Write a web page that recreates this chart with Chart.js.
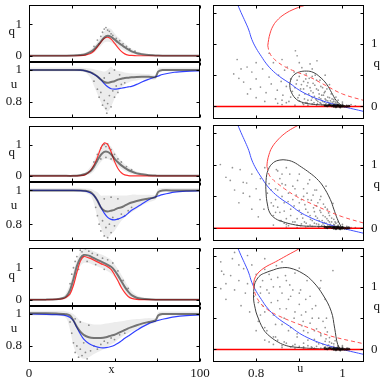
<!DOCTYPE html>
<html><head><meta charset="utf-8">
<script src="https://cdn.jsdelivr.net/npm/chart.js@4.4.0/dist/chart.umd.min.js"></script>
<style>
html,body{margin:0;padding:0;background:#fff;width:384px;height:385px;overflow:hidden}
.p{position:absolute}
.p canvas{display:block}
</style></head><body>
<script>
// ---------- tick labels ----------
const xTicks = [0, 25, 50, 75, 100];
const xTickLabels = ['0', '', '', '', '100'];
const qTicksL = [0, 1];
const qTickLabelsL = ['0', '1'];
const uTicksL = [0.8, 1];
const uTickLabelsL = ['0.8', '1'];
const uTicksR = [0.8, 0.9, 1];
const uTickLabelsR = ['0.8', '', '1'];
const qTicksR = [0, 0.5, 1, 1.5];
const qTickLabelsR = ['0', '', '1', ''];

// ---------- left column, row 1 ----------
const xs1 = [0,10,20,26,30,33,36,38,40,42,44,46,48,50,52,54,56,58,60,63,66,70,74,75.5,78,85,92,100];
const qModel1 = [0,0,0,0,0.003,0.02,0.07,0.15,0.28,0.43,0.55,0.59,0.53,0.40,0.26,0.14,0.06,0.02,0.01,0,0,0,0,0,0,0,0,0];
const qData1  = [0,0,0,0.005,0.02,0.05,0.12,0.2,0.32,0.45,0.58,0.64,0.6,0.52,0.43,0.35,0.27,0.2,0.14,0.08,0.05,0.02,0.01,0.005,0,0,0,0];
const qHi1    = [0.03,0.03,0.03,0.04,0.06,0.1,0.2,0.3,0.45,0.6,0.78,0.88,0.85,0.72,0.6,0.5,0.4,0.3,0.22,0.14,0.09,0.05,0.03,0.03,0.03,0.03,0.03,0.03];
const qLo1    = [-0.02,-0.02,-0.02,-0.02,-0.01,0.01,0.05,0.1,0.2,0.3,0.42,0.45,0.42,0.35,0.28,0.22,0.15,0.1,0.06,0.03,0.01,0,-0.01,-0.02,-0.02,-0.02,-0.02,-0.02];
const uModel1 = [1,1,1,1,0.999,0.995,0.985,0.972,0.96,0.94,0.915,0.895,0.883,0.88,0.882,0.886,0.89,0.894,0.898,0.91,0.925,0.942,0.958,0.962,0.972,0.986,0.992,0.995];
const uData1  = [1,1,1,1,1,0.995,0.985,0.975,0.96,0.94,0.925,0.92,0.925,0.93,0.94,0.945,0.95,0.952,0.955,0.957,0.958,0.958,0.955,0.99,1,1,1,1];
const uHi1    = [1.015,1.015,1.015,1.015,1.015,1.012,1.01,1.005,1.0,0.995,0.99,1.0,1.02,1.0,0.995,0.99,0.985,0.982,0.98,0.978,0.977,0.975,0.97,1.01,1.015,1.015,1.015,1.015];
const uLo1    = [0.99,0.99,0.99,0.99,0.99,0.985,0.95,0.9,0.85,0.8,0.76,0.74,0.77,0.82,0.86,0.89,0.91,0.92,0.93,0.935,0.94,0.94,0.94,0.975,0.99,0.99,0.99,0.99];
const qOut1 = [[40,0.5],[42,0.62],[43,0.75],[44,0.85],[45,0.9],[46,0.82],[47,0.78],[48,0.7],[49,0.65],[51,0.55],[53,0.48],[55,0.38],[57,0.3],[59,0.22],[62,0.15],[38,0.3],[41,0.38]];
const uOut1 = [[38,0.93],[40,0.88],[41,0.83],[42,0.86],[43,0.78],[44,0.81],[45,0.76],[45.5,0.73],[46,0.79],[47,0.84],[48,0.77],[49,0.87],[50,0.83],[51,0.9],[52,0.86],[54,0.91],[56,0.92],[44,0.95],[47,0.98],[50,1.0],[53,0.97]];

// ---------- left column, row 2 ----------
const xs2 = [0,10,20,26,30,33,36,38,40,42,44,46,48,50,52,54,56,58,60,63,66,70,74,75.5,78,85,92,100];
const qModel2 = [0,0,0,0,0.005,0.04,0.18,0.35,0.6,0.9,1.07,1.02,0.78,0.47,0.24,0.1,0.03,0.01,0,0,0,0,0,0,0,0,0,0];
const qData2  = [0,0,0,0,0.02,0.06,0.16,0.3,0.5,0.68,0.78,0.78,0.7,0.56,0.44,0.34,0.26,0.19,0.14,0.08,0.05,0.02,0.01,0,0,0,0,0];
const qHi2    = [0.03,0.03,0.03,0.03,0.06,0.12,0.3,0.5,0.75,0.95,1.05,1.05,0.95,0.78,0.62,0.48,0.38,0.3,0.22,0.14,0.09,0.05,0.03,0.03,0.03,0.03,0.03,0.03];
const qLo2    = [-0.02,-0.02,-0.02,-0.02,-0.01,0.02,0.06,0.15,0.3,0.45,0.55,0.55,0.5,0.4,0.3,0.22,0.15,0.1,0.06,0.03,0.01,-0.01,-0.02,-0.02,-0.02,-0.02,-0.02,-0.02];
const uModel2 = [1,1,1,1,0.999,0.996,0.985,0.97,0.94,0.9,0.865,0.84,0.828,0.825,0.83,0.838,0.848,0.865,0.882,0.9,0.92,0.945,0.962,0.967,0.975,0.99,0.996,0.998];
const uData2  = [1,1,1,1,1,0.998,0.99,0.97,0.94,0.9,0.88,0.875,0.88,0.885,0.895,0.9,0.91,0.92,0.928,0.937,0.945,0.952,0.96,0.99,1,1,1,1];
const uHi2    = [1.015,1.015,1.015,1.015,1.015,1.012,1.01,1.0,0.99,0.97,0.97,0.97,0.97,0.97,0.97,0.97,0.97,0.972,0.975,0.975,0.975,0.975,0.975,1.01,1.015,1.015,1.015,1.015];
const uLo2    = [0.99,0.99,0.99,0.99,0.99,0.985,0.97,0.92,0.84,0.78,0.73,0.72,0.74,0.76,0.79,0.82,0.84,0.86,0.87,0.89,0.91,0.93,0.945,0.97,0.99,0.99,0.99,0.99];
const qOut2 = [[38,0.45],[40,0.7],[42,0.9],[43,1.0],[44,1.02],[45,0.95],[46,1.04],[47,0.9],[48,0.85],[50,0.7],[52,0.55],[54,0.45],[57,0.3],[60,0.2],[42,0.55],[45,0.6],[48,0.55]];
const uOut2 = [[39,0.9],[40,0.85],[41,0.8],[42,0.76],[43,0.82],[44,0.73],[45,0.78],[46,0.72],[47,0.8],[48,0.75],[49,0.84],[50,0.79],[52,0.83],[54,0.86],[56,0.85],[58,0.88],[60,0.9],[44,0.95],[48,0.96],[52,0.95]];

// ---------- left column, row 3 ----------
const xs3 = [0,10,16,20,22,24,26,28,30,32,35,38,42,45,48,50,52,54,56,58,60,63,66,70,74,75.5,78,85,92,100];
const qModel3 = [0,0,0.005,0.03,0.08,0.18,0.45,0.85,1.2,1.35,1.31,1.24,1.13,1.06,0.95,0.78,0.59,0.38,0.22,0.1,0.04,0.01,0,0,0,0,0,0,0,0];
const qData3  = [0,0,0.01,0.05,0.12,0.3,0.65,1.05,1.3,1.4,1.38,1.3,1.2,1.12,1.03,0.92,0.76,0.58,0.4,0.25,0.14,0.06,0.03,0.01,0,0,0,0,0,0];
const qHi3    = [0.03,0.03,0.04,0.1,0.25,0.5,0.9,1.25,1.5,1.6,1.58,1.52,1.42,1.35,1.25,1.12,0.96,0.78,0.6,0.42,0.28,0.14,0.08,0.04,0.03,0.03,0.03,0.03,0.03,0.03];
const qLo3    = [-0.02,-0.02,-0.02,0,0.03,0.12,0.4,0.8,1.05,1.15,1.15,1.08,1.0,0.92,0.82,0.7,0.55,0.38,0.22,0.1,0.04,0.01,-0.01,-0.02,-0.02,-0.02,-0.02,-0.02,-0.02,-0.02];
const uModel3 = [1.0,0.998,0.996,0.993,0.988,0.978,0.958,0.915,0.875,0.843,0.815,0.8,0.789,0.79,0.797,0.805,0.817,0.832,0.848,0.862,0.877,0.898,0.918,0.94,0.955,0.96,0.967,0.982,0.99,0.994];
const uData3  = [1.005,1.005,1.003,1.0,0.998,0.99,0.96,0.92,0.89,0.87,0.855,0.85,0.85,0.855,0.865,0.87,0.88,0.89,0.9,0.91,0.918,0.93,0.94,0.95,0.96,0.99,1.0,1.0,1.0,1.0];
const uHi3    = [1.02,1.02,1.02,1.02,1.015,1.01,1.0,0.98,0.96,0.95,0.94,0.935,0.935,0.94,0.945,0.95,0.952,0.955,0.958,0.962,0.965,0.968,0.97,0.975,0.975,1.01,1.015,1.015,1.015,1.015];
const uLo3    = [0.99,0.99,0.99,0.985,0.97,0.9,0.8,0.75,0.73,0.72,0.73,0.75,0.77,0.79,0.81,0.82,0.84,0.855,0.87,0.88,0.89,0.905,0.92,0.935,0.945,0.975,0.99,0.99,0.99,0.99];
const qOut3 = [[24,0.5],[25,0.8],[26,1.0],[27,1.2],[28,1.35],[30,1.55],[31,1.5],[33,1.6],[35,1.52],[37,1.45],[40,1.4],[43,1.3],[46,1.25],[49,1.15],[52,0.9],[55,0.6],[58,0.35],[29,0.95],[34,1.2],[39,1.1],[44,0.95]];
const uOut3 = [[24,0.95],[25,0.88],[26,0.82],[27,0.76],[28,0.8],[29,0.73],[30,0.78],[31,0.74],[32,0.82],[33,0.76],[34,0.72],[36,0.77],[38,0.8],[40,0.78],[42,0.81],[44,0.83],[46,0.82],[48,0.85],[50,0.84],[53,0.87],[56,0.88],[27,0.97],[30,0.95],[35,0.93]];

// ---------- right column (u, q) ----------
const blueCurve = [[0.755,1.66],[0.765,1.5],[0.775,1.35],[0.783,1.22],[0.79,1.07],[0.8,0.93],[0.812,0.8],[0.824,0.68],[0.84,0.56],[0.86,0.45],[0.878,0.37],[0.9,0.26],[0.925,0.17],[0.95,0.1],[0.975,0.045],[1.0,0.0],[1.025,-0.04],[1.05,-0.08]];
const zeroLine = [[0.7,0],[1.05,0]];

const redSolid1 = [[0.827,0.97],[0.829,1.07],[0.832,1.16],[0.838,1.27],[0.848,1.37],[0.865,1.47],[0.89,1.56],[0.92,1.63]];
const redDash1  = [[0.827,0.97],[0.83,0.88],[0.836,0.8],[0.848,0.72],[0.865,0.64],[0.89,0.56],[0.924,0.47],[0.96,0.34],[1.0,0.2],[1.05,0.095]];
const loop1 = [[0.997,0.02],[0.985,0.1],[0.975,0.22],[0.963,0.36],[0.948,0.47],[0.932,0.545],[0.917,0.565],[0.9,0.55],[0.887,0.5],[0.88,0.42],[0.878,0.33],[0.882,0.22],[0.894,0.11],[0.91,0.06],[0.925,0.04],[0.95,0.025],[0.975,0.015],[0.997,0.02]];
const cloud1 = [[0.748,0.52],[0.756,0.75],[0.771,0.39],[0.779,0.63],[0.79,0.55],[0.80,0.44],[0.81,0.31],[0.815,0.6],[0.823,0.22],[0.83,0.47],[0.835,0.36],[0.84,0.7],[0.845,0.12],[0.849,0.26],[0.852,0.5],[0.858,0.4],[0.862,0.18],[0.866,0.58],[0.87,0.32],[0.872,0.63],[0.876,0.08],[0.88,0.44],[0.884,0.24],[0.888,0.55],[0.891,0.89],[0.893,0.36],[0.895,0.81],[0.897,0.14],[0.9,0.48],[0.903,0.28],[0.906,0.62],[0.908,0.05],[0.91,0.4],[0.913,0.2],[0.916,0.52],[0.918,0.33],[0.92,0.1],[0.923,0.45],[0.925,0.68],[0.927,0.25],[0.93,0.04],[0.932,0.37],[0.935,0.16],[0.937,0.5],[0.94,0.28],[0.941,0.73],[0.943,0.08],[0.946,0.2],[0.948,0.42],[0.95,0.12],[0.952,0.03],[0.954,0.3],[0.956,0.18],[0.958,0.07],[0.96,0.24],[0.962,0.1],[0.964,0.02],[0.966,0.15],[0.968,0.06],[0.97,0.35],[0.972,0.09],[0.974,0.03],[0.976,0.12],[0.978,0.05],[0.98,0.08],[0.982,0.02],[0.985,0.04],[0.988,0.06],[0.99,0.01],[0.993,0.03],[0.996,0.02],[1.0,0.04],[1.004,0.01],[1.01,0.02],[1.016,0.01],[0.86,0.03],[0.89,0.02],[0.915,0.06],[0.94,0.02],[0.787,0.28],[0.765,0.6],
  [0.89,0.3],[0.895,0.42],[0.9,0.18],[0.905,0.35],[0.91,0.28],[0.912,0.12],[0.915,0.44],[0.918,0.06],[0.92,0.38],[0.922,0.2],[0.925,0.3],[0.928,0.1],[0.93,0.48],[0.932,0.22],[0.934,0.06],[0.936,0.34],[0.938,0.12],[0.94,0.42],[0.942,0.04],[0.944,0.26],[0.946,0.14],[0.948,0.06],[0.95,0.32],[0.952,0.18],[0.954,0.08],[0.956,0.03],[0.958,0.22],[0.96,0.12],[0.962,0.05],[0.964,0.28],[0.966,0.09],[0.968,0.03],[0.97,0.14],[0.972,0.05],[0.974,0.2],[0.976,0.07],[0.978,0.02],[0.98,0.11],[0.982,0.04],[0.984,0.07],[0.986,0.02],[0.988,0.03],[0.97,0.04],[0.96,0.02],[0.95,0.05],[0.94,0.1],[0.93,0.14],[0.92,0.02],[0.91,0.03],[0.9,0.09],[0.88,0.15],[0.87,0.06],[0.86,0.1],[0.85,0.05],[0.82,0.08],[0.8,0.14],[0.78,0.2],[0.76,0.45],[0.8,0.7],[0.83,0.85],[0.86,0.75],[0.9,0.7],[0.93,0.6],[0.96,0.5],[0.985,0.15],[0.99,0.1],[1.0,0.07],[1.02,0.03],[1.03,0.01],[0.995,0.0]];

const redSolid2 = [[0.825,0.97],[0.826,1.05],[0.83,1.16],[0.836,1.26],[0.848,1.37],[0.865,1.48],[0.885,1.57],[0.905,1.64]];
const redDash2  = [[0.825,0.97],[0.83,0.84],[0.838,0.77],[0.848,0.71],[0.87,0.6],[0.893,0.5],[0.92,0.41],[0.963,0.28],[1.0,0.18],[1.05,0.08]];
const loop2 = [[0.997,0.02],[0.988,0.15],[0.98,0.3],[0.972,0.45],[0.955,0.66],[0.94,0.78],[0.924,0.87],[0.905,0.96],[0.886,1.04],[0.87,1.07],[0.855,1.07],[0.84,1.03],[0.828,0.92],[0.823,0.75],[0.823,0.55],[0.826,0.38],[0.832,0.24],[0.845,0.15],[0.863,0.1],[0.885,0.06],[0.909,0.036],[0.94,0.03],[0.97,0.025],[0.997,0.02]];
const cloud2 = [[0.717,1.0],[0.73,0.8],[0.745,0.95],[0.75,0.6],[0.763,0.92],[0.77,0.72],[0.778,0.71],[0.785,0.5],[0.79,0.85],[0.8,0.62],[0.809,0.45],[0.81,0.78],[0.818,0.3],[0.82,0.95],[0.826,0.55],[0.83,0.7],[0.835,0.4],[0.84,0.2],[0.845,0.62],[0.847,0.92],[0.85,0.33],[0.855,0.78],[0.858,0.12],[0.86,0.5],[0.865,0.27],[0.868,0.68],[0.87,0.06],[0.874,0.42],[0.878,0.85],[0.88,0.2],[0.885,0.66],[0.888,0.35],[0.89,0.1],[0.893,0.52],[0.896,0.75],[0.9,0.28],[0.903,0.04],[0.905,0.45],[0.908,0.16],[0.91,0.62],[0.913,0.37],[0.916,0.08],[0.918,0.55],[0.92,0.25],[0.924,0.76],[0.926,0.14],[0.928,0.44],[0.93,0.03],[0.933,0.32],[0.936,0.6],[0.938,0.19],[0.94,0.07],[0.943,0.4],[0.946,0.12],[0.948,0.28],[0.95,0.5],[0.952,0.04],[0.955,0.2],[0.958,0.09],[0.96,0.33],[0.962,0.66],[0.964,0.15],[0.966,0.05],[0.968,0.24],[0.97,0.1],[0.972,0.02],[0.975,0.16],[0.978,0.39],[0.98,0.06],[0.983,0.1],[0.986,0.03],[0.99,0.05],[0.994,0.02],[1.0,0.03],[1.006,0.01],[1.013,0.02],[1.02,0.01],[0.87,0.02],[0.895,0.01],[0.92,0.03],[0.945,0.01],[0.84,0.05],[0.805,0.18],[0.76,0.4],
  [0.84,0.35],[0.845,0.45],[0.85,0.6],[0.855,0.25],[0.86,0.7],[0.865,0.4],[0.87,0.15],[0.875,0.55],[0.88,0.3],[0.885,0.45],[0.89,0.62],[0.895,0.15],[0.9,0.4],[0.905,0.22],[0.91,0.5],[0.912,0.1],[0.915,0.3],[0.92,0.45],[0.925,0.2],[0.93,0.12],[0.932,0.52],[0.935,0.26],[0.94,0.35],[0.942,0.16],[0.945,0.06],[0.948,0.45],[0.95,0.25],[0.953,0.12],[0.956,0.38],[0.958,0.04],[0.96,0.18],[0.962,0.08],[0.965,0.3],[0.967,0.12],[0.97,0.2],[0.972,0.06],[0.975,0.1],[0.977,0.03],[0.98,0.14],[0.982,0.05],[0.985,0.08],[0.988,0.02],[0.99,0.1],[0.975,0.04],[0.965,0.02],[0.955,0.07],[0.945,0.03],[0.935,0.08],[0.925,0.05],[0.915,0.02],[0.905,0.07],[0.895,0.05],[0.885,0.1],[0.875,0.04],[0.865,0.08],[0.855,0.12],[0.845,0.25],[0.835,0.6],[0.85,0.9],[0.87,0.95],[0.9,0.85],[0.92,0.7],[0.94,0.6],[0.86,0.85],[0.79,0.3],[0.77,0.55],[0.74,0.75],[1.0,0.06],[1.01,0.03],[1.03,0.01]];

const redSolid3 = [[0.794,1.03],[0.796,1.12],[0.802,1.2],[0.812,1.27],[0.825,1.33],[0.845,1.4],[0.871,1.5],[0.9,1.61],[0.905,1.64]];
const redDash3  = [[0.794,1.03],[0.796,0.93],[0.802,0.82],[0.815,0.7],[0.83,0.62],[0.848,0.55],[0.885,0.44],[0.924,0.34],[0.97,0.22],[1.05,0.09]];
const loop3 = [[0.997,0.0],[0.989,0.08],[0.982,0.34],[0.974,0.61],[0.955,0.87],[0.932,1.08],[0.909,1.21],[0.878,1.3],[0.855,1.3],[0.84,1.27],[0.82,1.22],[0.809,1.18],[0.8,1.1],[0.796,1.03],[0.794,0.82],[0.798,0.65],[0.802,0.55],[0.817,0.32],[0.83,0.22],[0.848,0.13],[0.866,0.07],[0.886,0.04],[0.947,0.01],[0.997,0.0]];
const cloud3 = [[0.718,1.4],[0.718,0.97],[0.725,1.2],[0.73,0.8],[0.741,1.18],[0.745,1.45],[0.75,0.95],[0.76,1.1],[0.765,0.7],[0.771,1.29],[0.775,0.9],[0.78,1.05],[0.785,0.6],[0.79,1.35],[0.795,0.85],[0.8,1.2],[0.805,0.45],[0.81,1.0],[0.815,0.7],[0.82,1.28],[0.825,0.3],[0.83,0.9],[0.835,1.12],[0.84,0.55],[0.845,0.2],[0.847,1.34],[0.85,0.78],[0.855,1.0],[0.86,0.4],[0.865,0.12],[0.868,1.18],[0.87,0.65],[0.875,0.3],[0.878,1.03],[0.88,0.85],[0.885,0.06],[0.888,0.5],[0.89,1.22],[0.895,0.2],[0.9,0.72],[0.903,0.95],[0.906,0.38],[0.909,0.45],[0.91,0.1],[0.915,0.6],[0.918,1.1],[0.92,0.27],[0.925,0.85],[0.928,0.04],[0.93,0.5],[0.935,0.16],[0.938,0.7],[0.94,0.33],[0.945,0.09],[0.948,0.98],[0.95,0.22],[0.955,0.45],[0.958,0.03],[0.96,0.13],[0.963,0.5],[0.965,0.28],[0.968,0.07],[0.97,0.19],[0.973,0.02],[0.975,0.1],[0.978,1.26],[0.98,0.05],[0.983,0.14],[0.986,0.03],[0.99,0.06],[0.994,0.02],[1.0,0.04],[1.006,0.01],[1.012,0.02],[0.86,0.03],[0.89,0.02],[0.91,0.04],[0.935,0.02],[0.955,0.01],[0.84,0.08],[0.82,0.15],[0.8,0.3],
  [0.81,0.9],[0.815,1.1],[0.82,0.6],[0.825,0.95],[0.83,1.2],[0.835,0.75],[0.84,1.0],[0.845,0.4],[0.85,1.15],[0.855,0.65],[0.86,0.9],[0.865,0.5],[0.87,1.1],[0.875,0.8],[0.88,0.35],[0.885,0.95],[0.89,0.6],[0.895,0.25],[0.9,0.9],[0.905,0.55],[0.91,0.3],[0.915,0.8],[0.92,0.15],[0.925,0.42],[0.93,0.65],[0.935,0.3],[0.94,0.12],[0.945,0.5],[0.95,0.25],[0.955,0.08],[0.96,0.35],[0.962,0.17],[0.965,0.06],[0.97,0.12],[0.975,0.04],[0.98,0.09],[0.985,0.02],[0.99,0.05],[0.97,0.02],[0.96,0.04],[0.95,0.02],[0.94,0.05],[0.93,0.03],[0.92,0.06],[0.91,0.02],[0.9,0.05],[0.89,0.08],[0.88,0.04],[0.87,0.1],[0.86,0.06],[0.85,0.15],[0.84,0.2],[0.83,0.12],[0.82,0.35],[0.81,0.55],[0.805,0.75],[0.76,1.35],[0.73,1.05],[0.72,1.25],[0.75,1.55],[0.78,1.5],[0.82,1.45],[0.86,1.4],[0.9,1.3],[0.95,1.1],[0.96,0.8],[1.0,0.06],[1.01,0.02]];

const knot = [[0.975,0.01],[0.98,0.0],[0.985,0.012],[0.99,0.0],[0.995,0.006],[1.0,0.0],[0.99,0.02],[1.005,0.0],[0.97,0.02],[0.985,-0.008],[0.995,-0.01],[1.01,0.0],[0.98,0.018],[1.0,0.015],[0.965,0.008],[0.96,0.015],[1.015,0.005]];

// ---------- drawing ----------
const SERIF = "'Liberation Serif','Times New Roman',serif";
const INK = '#151515';
const X_MIN = 0, X_MAX = 100, Q_MIN = -0.2, Q_MAX = 1.62, U_MIN = 0.7, U_MAX = 1.05;

const pts = (xs, ys) => xs.map((x, i) => ({x: x, y: ys[i]}));
const prs = a => a.map(p => ({x: p[0], y: p[1]}));

const frameCfg = new WeakMap();
Chart.register({
  id: 'frame',
  afterDatasetsDraw(chart) {
    const f = frameCfg.get(chart.canvas); if (!f) return;
    const ctx = chart.ctx, a = chart.chartArea, sx = chart.scales.x, sy = chart.scales.y;
    ctx.save();
    ctx.strokeStyle = '#000'; ctx.lineWidth = 1;
    const L = Math.round(a.left) + 0.5, R = Math.round(a.right) - 0.5;
    const T = Math.round(a.top) + 0.5, B = Math.round(a.bottom) - 0.5;
    ctx.strokeRect(L, T, R - L, B - T);
    const tl = 3;
    ctx.beginPath();
    f.xt.forEach(v => { const p = Math.round(sx.getPixelForValue(v)) + 0.5;
      ctx.moveTo(p, B); ctx.lineTo(p, B - tl); ctx.moveTo(p, T); ctx.lineTo(p, T + tl); });
    f.yt.forEach(v => { const p = Math.round(sy.getPixelForValue(v)) + 0.5;
      ctx.moveTo(L, p); ctx.lineTo(L + tl, p); ctx.moveTo(R, p); ctx.lineTo(R - tl, p); });
    ctx.stroke();
    ctx.fillStyle = INK; ctx.textAlign = 'center'; ctx.textBaseline = 'middle';
    (f.texts || []).forEach(t => {
      ctx.font = (t.size || 13) + 'px ' + SERIF;
      const x = t.xv != null ? sx.getPixelForValue(t.xv) : (t.side === 'R' ? a.right : a.left) + t.dx;
      const y = t.yv != null ? sy.getPixelForValue(t.yv) : a.bottom + t.dy;
      ctx.fillText(t.s, x, y);
    });
    ctx.restore();
  }
});

function ax(min, max, ticks, labels, o) {
  const cfg = {
    type: 'linear', min: min, max: max, display: o.display !== false,
    afterBuildTicks: s => { s.ticks = ticks.map(v => ({value: v})); },
    afterFit: s => { s.paddingTop = 0; s.paddingBottom = 0; s.paddingLeft = 0; s.paddingRight = 0;
      if (o.w != null) s.width = o.w; if (o.h != null) s.height = o.h; },
    ticks: {callback: (v, i) => labels[i], font: {family: SERIF, size: 13}, color: INK,
      padding: o.pad || 0, autoSkip: false, maxRotation: 0, minRotation: 0},
    grid: {display: false, drawTicks: false}, border: {display: false}
  };
  if (o.position) cfg.position = o.position;
  return cfg;
}

function line(data, color, width, extra) {
  return Object.assign({data: data, borderColor: color, backgroundColor: color, borderWidth: width,
    pointRadius: 0, pointHoverRadius: 0, fill: false, tension: 0.3}, extra || {});
}
function dots(data, color, r, extra) {
  return Object.assign({data: data, showLine: false, pointRadius: r, pointHoverRadius: 0,
    pointBackgroundColor: color, pointBorderWidth: 0, borderColor: color, backgroundColor: color}, extra || {});
}

function makeChart(box, pad, xAxis, yAxis, datasets, frame) {
  const d = document.createElement('div');
  d.className = 'p';
  d.style.left = box.l + 'px'; d.style.top = box.t + 'px';
  d.style.width = box.w + 'px'; d.style.height = box.h + 'px';
  const c = document.createElement('canvas');
  d.appendChild(c); document.body.appendChild(d);
  frameCfg.set(c, frame);
  new Chart(c, {
    type: 'line',
    data: {datasets: datasets},
    options: {
      responsive: true, maintainAspectRatio: false, animation: false, devicePixelRatio: 1, events: [],
      layout: {padding: pad},
      plugins: {legend: {display: false}, tooltip: {enabled: false}},
      scales: {x: xAxis, y: yAxis}
    }
  });
}

const BAND = 'rgba(0,0,0,0.075)';
const CORE = 'rgba(35,35,35,0.6)';
const DOT = 'rgba(60,60,60,0.55)';

const leftRows = [
  {qT: 5, qB: 62, uT: 62, uB: 118, xs: xs1, qm: qModel1, qd: qData1, qh: qHi1, ql: qLo1, qo: qOut1, um: uModel1, ud: uData1, uh: uHi1, ul: uLo1, uo: uOut1},
  {qT: 126, qB: 182, uT: 182, uB: 241, xs: xs2, qm: qModel2, qd: qData2, qh: qHi2, ql: qLo2, qo: qOut2, um: uModel2, ud: uData2, uh: uHi2, ul: uLo2, uo: uOut2},
  {qT: 248, qB: 306, uT: 306, uB: 362, xs: xs3, qm: qModel3, qd: qData3, qh: qHi3, ql: qLo3, qo: qOut3, um: uModel3, ud: uData3, uh: uHi3, ul: uLo3, uo: uOut3}
];

leftRows.forEach((r, i) => {
  const last = i === leftRows.length - 1;
  makeChart({l: 0, t: r.qT - 3, w: 215, h: r.qB - r.qT + 6}, {left: 0, right: 15, top: 3, bottom: 3},
    ax(X_MIN, X_MAX, xTicks, xTickLabels, {display: false}),
    ax(Q_MIN, Q_MAX, qTicksL, qTickLabelsL, {w: 29, pad: 7}),
    [
      line(pts(r.xs, r.qh), 'rgba(0,0,0,0)', 0, {fill: '+1', backgroundColor: BAND, order: 5}),
      line(pts(r.xs, r.ql), 'rgba(0,0,0,0)', 0, {order: 5}),
      dots(prs(r.qo), DOT, 0.9, {order: 4}),
      line(pts(r.xs, r.qm), '#ff3030', 1.2, {order: 2}),
      line(pts(r.xs, r.qd), CORE, 2, {order: 1, tension: 0.25})
    ],
    {xt: xTicks, yt: qTicksL, texts: [{s: 'q', side: 'L', dx: -17.3, yv: 0.76}]});
  const uTexts = [{s: 'u', side: 'L', dx: -15, yv: 0.91}];
  if (last) uTexts.push({s: 'x', xv: 48.2, dy: 8, size: 12});
  makeChart({l: 0, t: r.uT - 3, w: 215, h: r.uB - r.uT + (last ? 23 : 6)},
    {left: 0, right: 15, top: 3, bottom: last ? 0 : 3},
    ax(X_MIN, X_MAX, xTicks, xTickLabels, last ? {h: 20, pad: 4} : {display: false}),
    ax(U_MIN, U_MAX, uTicksL, uTickLabelsL, {w: 29, pad: 7}),
    [
      line(pts(r.xs, r.uh), 'rgba(0,0,0,0)', 0, {fill: '+1', backgroundColor: BAND, order: 5}),
      line(pts(r.xs, r.ul), 'rgba(0,0,0,0)', 0, {order: 5}),
      dots(prs(r.uo), DOT, 0.9, {order: 4}),
      line(pts(r.xs, r.um), '#3040ff', 1.2, {order: 2}),
      line(pts(r.xs, r.ud), CORE, 2, {order: 1, tension: 0.2})
    ],
    {xt: xTicks, yt: uTicksL, texts: uTexts});
});

const rightRows = [
  {T: 5, B: 119, rs: redSolid1, rd: redDash1, lp: loop1, cl: cloud1},
  {T: 125, B: 241, rs: redSolid2, rd: redDash2, lp: loop2, cl: cloud2},
  {T: 248, B: 362, rs: redSolid3, rd: redDash3, lp: loop3, cl: cloud3}
];

rightRows.forEach((r, i) => {
  const last = i === rightRows.length - 1;
  const texts = [{s: 'q', side: 'R', dx: 12.7, yv: 0.68}];
  if (last) texts.push({s: 'u', xv: 0.902, dy: 7, size: 12});
  makeChart({l: 208, t: r.T - 3, w: 176, h: r.B - r.T + (last ? 23 : 6)},
    {left: 5, right: 0, top: 3, bottom: last ? 0 : 3},
    ax(U_MIN, U_MAX, uTicksR, uTickLabelsR, last ? {h: 20, pad: 4} : {display: false}),
    ax(Q_MIN, Q_MAX, qTicksR, qTickLabelsR, {position: 'right', w: 20, pad: 7}),
    [
      dots(prs(r.cl), DOT, 0.85, {order: 9}),
      line(prs(blueCurve), '#4050ff', 1, {order: 7, tension: 0.4}),
      line(prs(r.lp), '#404040', 1, {order: 6, tension: 0.4}),
      line(prs(r.rd), '#ff5050', 1, {order: 5, tension: 0.4, borderDash: [4, 3]}),
      line(prs(r.rs), '#ff4040', 1, {order: 5, tension: 0.4}),
      line(prs(zeroLine), '#ff0000', 1.5, {order: 4, tension: 0}),
      dots(prs(knot), 'rgba(0,0,0,0.75)', 1.4, {order: 3})
    ],
    {xt: uTicksR, yt: qTicksR, texts: texts});
});
</script>
</body></html>
